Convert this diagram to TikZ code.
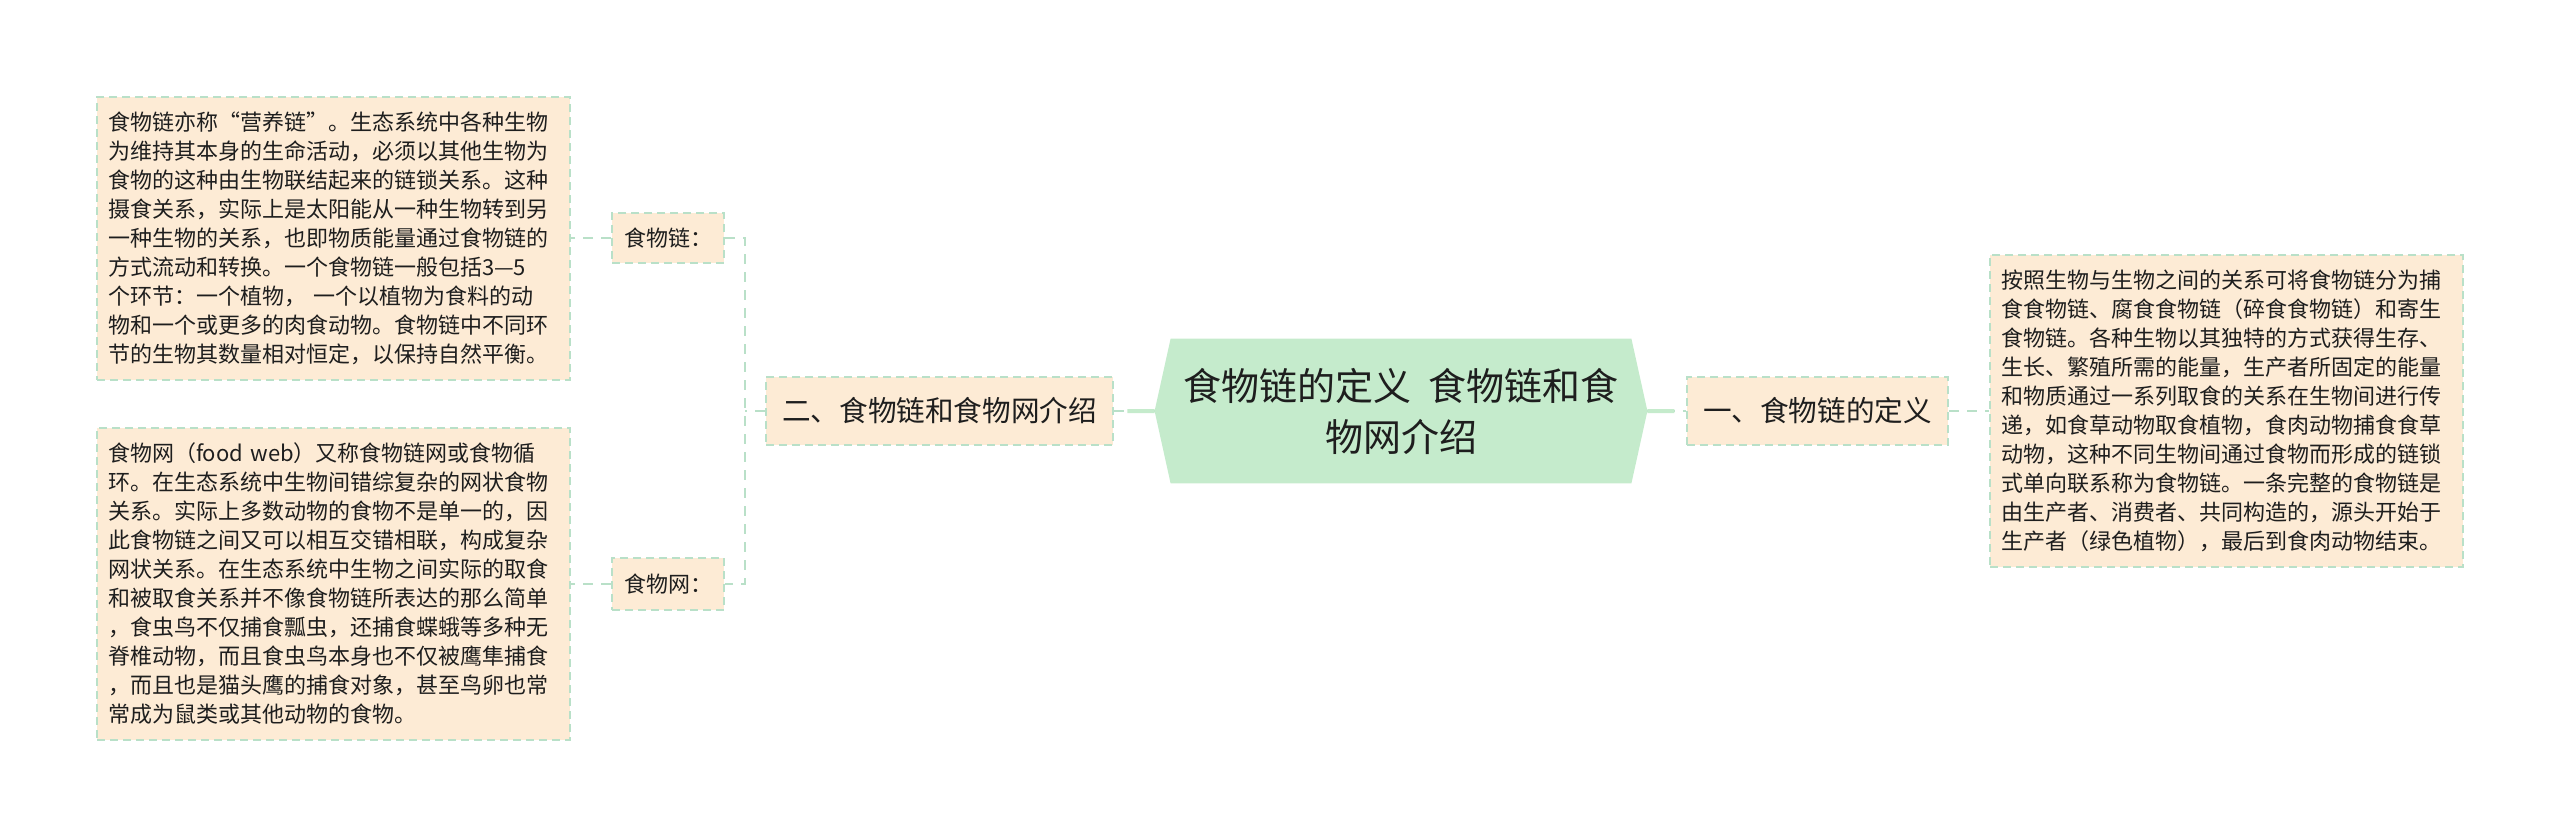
\documentclass[tikz,border=0pt]{standalone}
\usepackage{fontspec}
\setmainfont{Noto Sans CJK SC}
\usetikzlibrary{calc,backgrounds}
\definecolor{boxfill}{HTML}{FDEBD5}
\definecolor{boxline}{HTML}{B9E0C8}
\definecolor{hexfill}{HTML}{C5EBCC}
\definecolor{txt}{HTML}{1E1E1E}
\tikzset{
  textbox/.style={fill=boxfill, draw=boxline, line width=1pt, dash pattern=on 4pt off 2.5pt,
    text=txt, align=left, text width=225.5pt, inner xsep=5.5pt, inner ysep=0pt,
    font=\fontsize{11pt}{14.5pt}\selectfont, anchor=center},
  labelbox/.style={fill=boxfill, draw=boxline, line width=1pt, dash pattern=on 4pt off 2.5pt,
    text=txt, align=center, inner sep=0pt},
  dconn/.style={draw=boxline, line width=1pt, dash pattern=on 5pt off 4pt},
  sconn/.style={draw=hexfill, line width=2pt},
}
\begin{document}
\begin{tikzpicture}[x=0.5pt,y=-0.5pt]
\useasboundingbox (0,0) rectangle (2560,837);
% central topic
\node (c) at (1401,411) [minimum width=246pt, minimum height=72pt, inner sep=0pt, align=center, text=txt,
  font=\fontsize{19pt}{25.5pt}\selectfont] {食物链的定义\hspace{0.45em}食物链和食\\物网介绍};
\begin{pgfonlayer}{background}
\fill[hexfill] (c.west) -- ($(c.north west)+(16,0)$) -- ($(c.north east)+(-16,0)$) -- (c.east)
  -- ($(c.south east)+(-16,0)$) -- ($(c.south west)+(16,0)$) -- cycle;
\end{pgfonlayer}
% main branches
\node[labelbox, minimum width=173.5pt, minimum height=34pt, font=\fontsize{14.3pt}{17pt}\selectfont] (b2) at (939.5,411) {二、食物链和食物网介绍};
\node[labelbox, minimum width=130.5pt, minimum height=34pt, font=\fontsize{14.3pt}{17pt}\selectfont] (b1) at (1817.5,411) {一、食物链的定义};
% sub labels
\node[labelbox, minimum width=56pt, minimum height=25pt, font=\fontsize{11pt}{13pt}\selectfont] (l1) at (668,238) {食物链：};
\node[labelbox, minimum width=56pt, minimum height=26pt, font=\fontsize{11pt}{13pt}\selectfont] (l2) at (668,584) {食物网：};
% text boxes
\node[textbox, minimum height=141.5pt] (t1) at (333.5,238.5) {食物链亦称“营养链”。生态系统中各种生物\\为维持其本身的生命活动，必须以其他生物为\\食物的这种由生物联结起来的链锁关系。这种\\摄食关系，实际上是太阳能从一种生物转到另\\一种生物的关系，也即物质能量通过食物链的\\方式流动和转换。一个食物链一般包括3—5\\个环节：一个植物， 一个以植物为食料的动\\物和一个或更多的肉食动物。食物链中不同环\\节的生物其数量相对恒定，以保持自然平衡。};
\node[textbox, minimum height=156pt] (t2) at (333.5,584) {食物网（food web）又称食物链网或食物循\\环。在生态系统中生物间错综复杂的网状食物\\关系。实际上多数动物的食物不是单一的，因\\此食物链之间又可以相互交错相联，构成复杂\\网状关系。在生态系统中生物之间实际的取食\\和被取食关系并不像食物链所表达的那么简单\\，食虫鸟不仅捕食瓢虫，还捕食蝶蛾等多种无\\脊椎动物，而且食虫鸟本身也不仅被鹰隼捕食\\，而且也是猫头鹰的捕食对象，甚至鸟卵也常\\常成为鼠类或其他动物的食物。};
\node[textbox, minimum height=156pt] (t3) at (2226.5,411) {按照生物与生物之间的关系可将食物链分为捕\\食食物链、腐食食物链（碎食食物链）和寄生\\食物链。各种生物以其独特的方式获得生存、\\生长、繁殖所需的能量，生产者所固定的能量\\和物质通过一系列取食的关系在生物间进行传\\递，如食草动物取食植物，食肉动物捕食食草\\动物，这种不同生物间通过食物而形成的链锁\\式单向联系称为食物链。一条完整的食物链是\\由生产者、消费者、共同构造的，源头开始于\\生产者（绿色植物），最后到食肉动物结束。};
% connectors
\coordinate (bx) at (745,411);
\draw[dconn] (b2.east) -- (c.west);
\draw[sconn] (c.west) -- ($(c.west)!0.67!(b2.east)$);
\draw[dconn] (c.east) -- (b1.west);
\draw[sconn] (c.east) -- ($(c.east)!0.7!(b1.west)$);
\draw[dconn] (b1.east) -- (t3.west);
\draw[dconn] (b2.west) -- (bx);
\draw[dconn] (l1.east) -- (bx |- l1.east) -- (bx |- l2.east) -- (l2.east);
\draw[dconn] (l1.west) -- (t1.east |- l1.west);
\draw[dconn] (l2.west) -- (t2.east |- l2.west);
\end{tikzpicture}
\end{document}
